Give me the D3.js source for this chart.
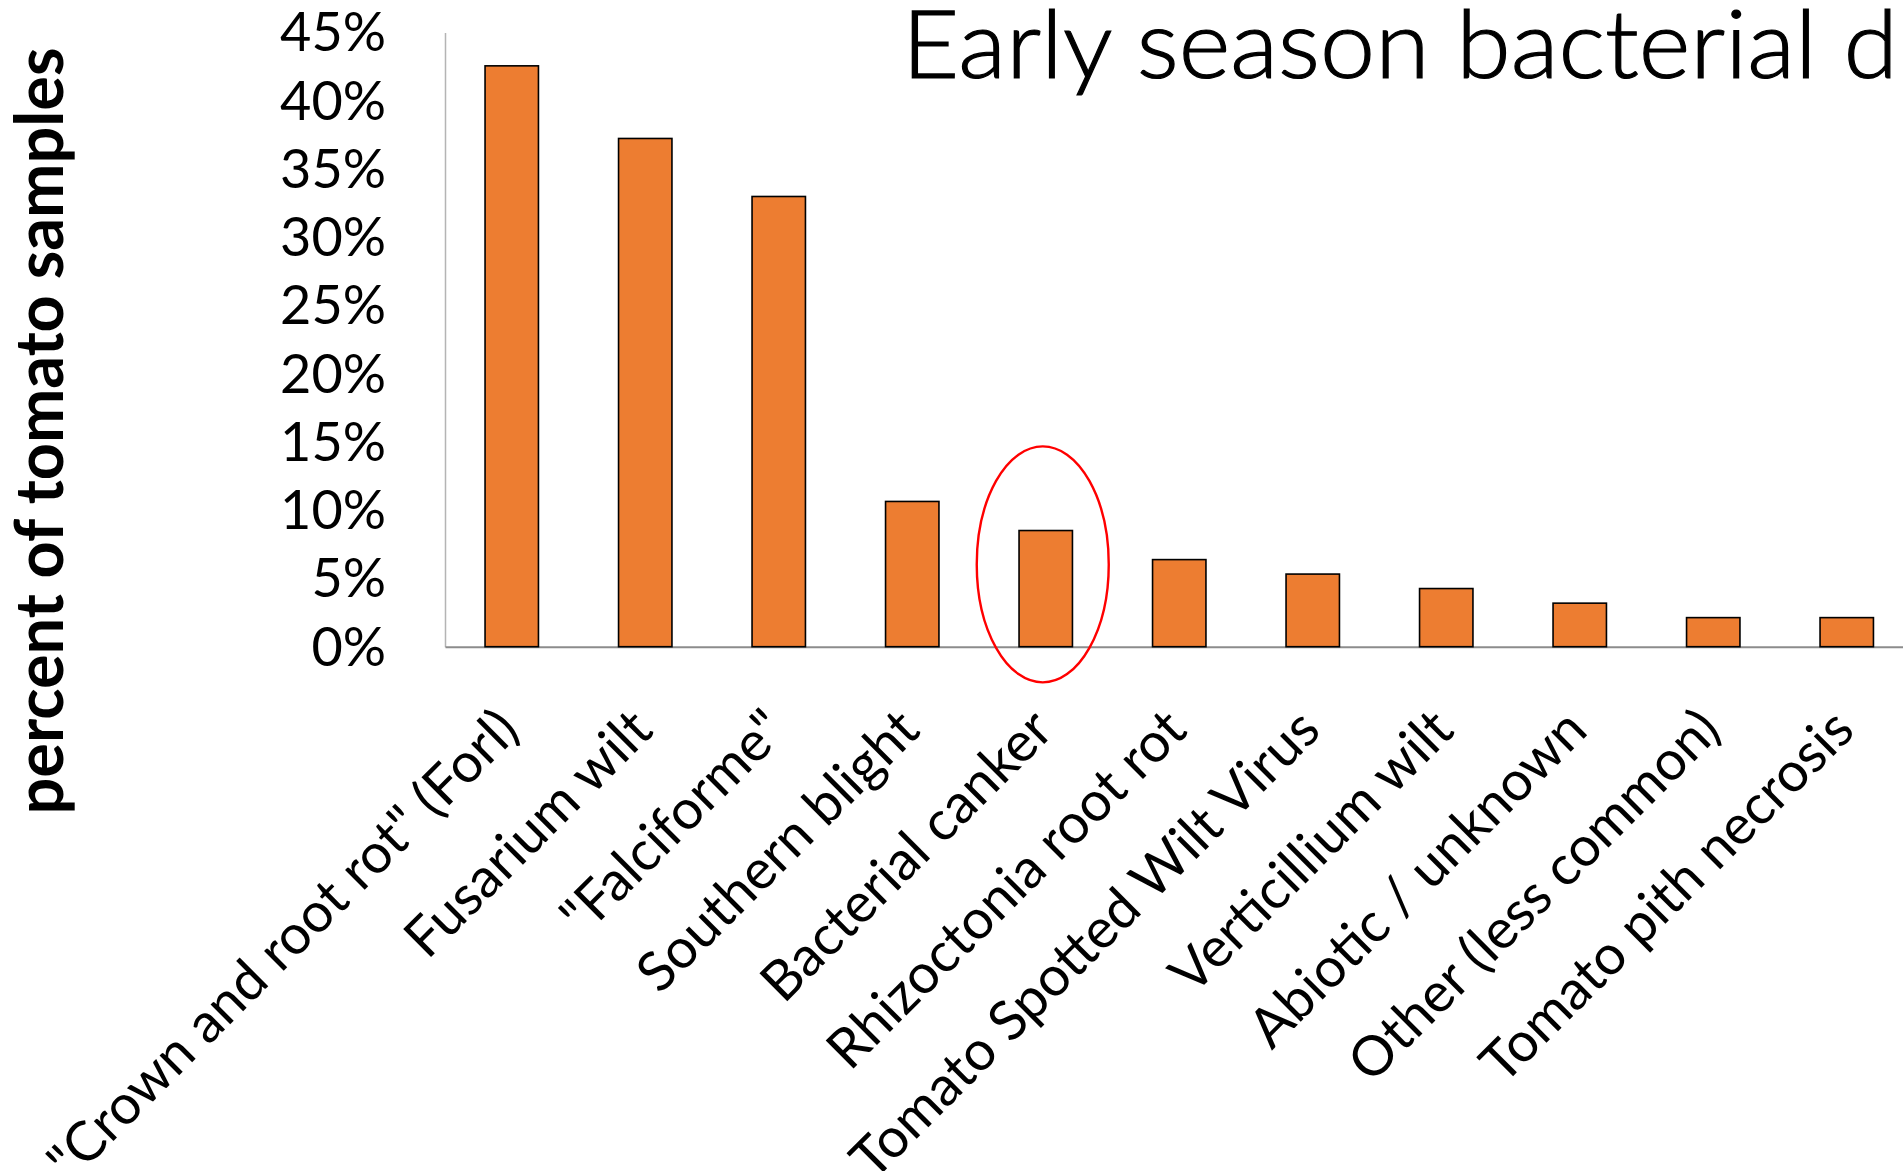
<!DOCTYPE html>
<html>
<head>
<meta charset="utf-8">
<script src="https://cdn.jsdelivr.net/npm/d3@7"></script>
<style>
  html, body { margin: 0; padding: 0; background: #ffffff; overflow: hidden; }
  svg { display: block; }
</style>
</head>
<body>
<svg id="chart" width="1903" height="1171"></svg>
<script>
// Diagnoses among tomato samples, share of all samples
const categories = [
  "\"Crown and root rot\" (Forl)",
  "Fusarium wilt",
  "\"Falciforme\"",
  "Southern blight",
  "Bacterial canker",
  "Rhizoctonia root rot",
  "Tomato Spotted Wilt Virus",
  "Verticillium wilt",
  "Abiotic / unknown",
  "Other (less common)",
  "Tomato pith necrosis"
];
const shares = [0.4255, 0.3723, 0.3298, 0.1064, 0.0851, 0.0638, 0.0532, 0.0426, 0.0319, 0.0213, 0.0213];
const yTicks = [0, 0.05, 0.10, 0.15, 0.20, 0.25, 0.30, 0.35, 0.40, 0.45];
const highlighted = "Bacterial canker";
const titleText = "Early season bacterial d";
const yTitle = "percent of tomato samples";

const svg = d3.select("#chart");
const W = 1903, H = 1171;
svg.append("rect").attr("width", W).attr("height", H).attr("fill", "#ffffff");

const plotLeft = 445, plotBase = 646.7, plotTop = 32.4;
const step = 133.5;
const x = d3.scaleBand()
  .domain(categories)
  .range([plotLeft, plotLeft + step * categories.length])
  .paddingInner(0.6)
  .paddingOuter(0.3);
const y = d3.scaleLinear().domain([0, 0.45]).range([plotBase, plotTop]);

const font = "Lato, Calibri, Carlito, 'Open Sans', sans-serif";

// y axis
const yAxis = svg.append("g")
  .attr("transform", `translate(${plotLeft},0)`)
  .call(d3.axisLeft(y).tickValues(yTicks).tickFormat(d3.format(".0%")).tickSize(0).tickSizeOuter(0).tickPadding(59));
yAxis.select(".domain").attr("stroke", "#b4b4b4").attr("stroke-width", 1.5);
yAxis.selectAll(".tick text")
  .attr("font-family", font)
  .attr("font-size", 54)
  .attr("fill", "#000")
  .attr("dy", "0.34em");

// x axis with slanted category names
const xAxis = svg.append("g")
  .attr("transform", `translate(0,${plotBase})`)
  .call(d3.axisBottom(x).tickSize(0).tickSizeOuter(0));
xAxis.select(".domain").attr("stroke", "#8c8c8c").attr("stroke-width", 2);
xAxis.selectAll(".tick text")
  .attr("font-family", font)
  .attr("font-size", 55)
  .attr("fill", "#000")
  .attr("text-anchor", "end")
  .attr("x", 0).attr("y", 0).attr("dy", null)
  .attr("transform", "translate(10,86) rotate(-45)");

// bars
svg.append("g").selectAll("rect")
  .data(categories)
  .join("rect")
  .attr("x", d => x(d))
  .attr("width", x.bandwidth())
  .attr("y", (d, i) => y(shares[i]))
  .attr("height", (d, i) => y(0) - y(shares[i]))
  .attr("fill", "#ED7D31")
  .attr("stroke", "#000")
  .attr("stroke-width", 1.6);

// red ring around the highlighted diagnosis
svg.append("ellipse")
  .attr("cx", x(highlighted) + x.bandwidth() / 2 - 3)
  .attr("cy", y(0.0603))
  .attr("rx", 66)
  .attr("ry", 118)
  .attr("fill", "none")
  .attr("stroke", "#ff0000")
  .attr("stroke-width", 2.4);

// title
svg.append("text")
  .attr("x", 902)
  .attr("y", 78)
  .attr("font-family", font)
  .attr("font-weight", 300)
  .attr("font-size", 94)
  .attr("textLength", 996)
  .attr("lengthAdjust", "spacingAndGlyphs")
  .attr("fill", "#000")
  .attr("stroke", "#000")
  .attr("stroke-width", 1.2)
  .text(titleText);

// y axis title
svg.append("text")
  .attr("transform", "translate(63,431) rotate(-90)")
  .attr("text-anchor", "middle")
  .attr("font-family", font)
  .attr("font-weight", 700)
  .attr("font-size", 66)
  .attr("textLength", 767)
  .attr("lengthAdjust", "spacingAndGlyphs")
  .attr("fill", "#000")
  .text(yTitle);
</script>
</body>
</html>
